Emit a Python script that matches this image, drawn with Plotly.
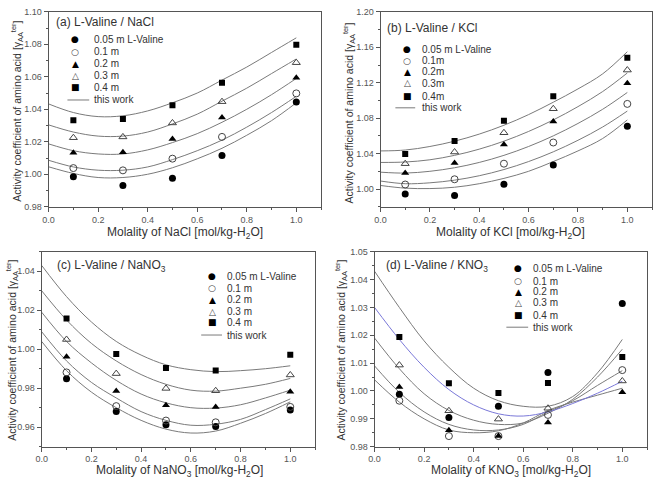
import plotly.graph_objects as go

W, H = 653, 483

# ---------------- data ----------------
SALT_X = [0.1, 0.3, 0.5, 0.7, 1.0]
CURVE_X = [0.0, 0.1, 0.2, 0.3, 0.4, 0.5, 0.6, 0.7, 0.8, 0.9, 1.0]
LABELS_A = ["0.05 m L-Valine", "0.1 m", "0.2 m", "0.3 m", "0.4 m"]
LABELS_B = ["0.05 m L-Valine", "0.1m", "0.2m", "0.3m", "0.4m"]

# (a) L-Valine / NaCl  -- measured points
A_005 = [0.9985, 0.9931, 0.9975, 1.0115, 1.0445]
A_01 = [1.0038, 1.0024, 1.0096, 1.0230, 1.0498]
A_02 = [1.0133, 1.0135, 1.0217, 1.0349, 1.0595]
A_03 = [1.0225, 1.0230, 1.0316, 1.0447, 1.0687]
A_04 = [1.0332, 1.0340, 1.0425, 1.0564, 1.0798]
# (a) model curves
A_C005 = [1.0046, 1.0005, 0.9980, 0.9980, 1.0000, 1.0040, 1.0095, 1.0160, 1.0240, 1.0330, 1.0440]
A_C01 = [1.0086, 1.0045, 1.0025, 1.0025, 1.0045, 1.0090, 1.0145, 1.0210, 1.0290, 1.0380, 1.0480]
A_C02 = [1.0187, 1.0145, 1.0125, 1.0125, 1.0150, 1.0195, 1.0250, 1.0320, 1.0400, 1.0490, 1.0590]
A_C03 = [1.0304, 1.0260, 1.0235, 1.0235, 1.0260, 1.0310, 1.0370, 1.0450, 1.0530, 1.0620, 1.0710]
A_C04 = [1.0433, 1.0380, 1.0355, 1.0360, 1.0390, 1.0440, 1.0500, 1.0580, 1.0660, 1.0750, 1.0840]

# (b) L-Valine / KCl
B_005 = [0.9945, 0.9927, 1.0055, 1.0272, 1.0708]
B_01 = [1.0051, 1.0110, 1.0286, 1.0525, 1.0961]
B_02 = [1.0180, 1.0294, 1.0503, 1.0763, 1.1193]
B_03 = [1.0286, 1.0418, 1.0635, 1.0906, 1.1343]
B_04 = [1.0396, 1.0543, 1.0771, 1.1046, 1.1483]
B_C005 = [1.0040, 1.0010, 1.0005, 1.0020, 1.0060, 1.0120, 1.0200, 1.0310, 1.0430, 1.0570, 1.0780]
B_C01 = [1.0090, 1.0060, 1.0070, 1.0100, 1.0150, 1.0220, 1.0310, 1.0420, 1.0550, 1.0700, 1.0880]
B_C02 = [1.0190, 1.0180, 1.0200, 1.0240, 1.0300, 1.0380, 1.0480, 1.0600, 1.0740, 1.0900, 1.1090]
B_C03 = [1.0300, 1.0305, 1.0330, 1.0380, 1.0450, 1.0540, 1.0650, 1.0780, 1.0930, 1.1100, 1.1310]
B_C04 = [1.0430, 1.0440, 1.0480, 1.0540, 1.0620, 1.0720, 1.0840, 1.0980, 1.1130, 1.1300, 1.1550]

# (c) L-Valine / NaNO3
C_005 = [0.9848, 0.9681, 0.9612, 0.9603, 0.9688]
C_01 = [0.9881, 0.9708, 0.9634, 0.9625, 0.9704]
C_02 = [0.9962, 0.9785, 0.9713, 0.9703, 0.9782]
C_03 = [1.0050, 0.9875, 0.9799, 0.9787, 0.9868]
C_04 = [1.0157, 0.9976, 0.9903, 0.9891, 0.9971]
C_C005 = [1.0040, 0.9890, 0.9780, 0.9700, 0.9635, 0.9590, 0.9570, 0.9580, 0.9620, 0.9670, 0.9730]
C_C01 = [1.0090, 0.9940, 0.9830, 0.9750, 0.9680, 0.9635, 0.9610, 0.9615, 0.9640, 0.9690, 0.9745]
C_C02 = [1.0190, 1.0040, 0.9930, 0.9840, 0.9770, 0.9725, 0.9700, 0.9698, 0.9715, 0.9750, 0.9790]
C_C03 = [1.0300, 1.0150, 1.0030, 0.9940, 0.9870, 0.9820, 0.9790, 0.9785, 0.9800, 0.9820, 0.9850]
C_C04 = [1.0430, 1.0270, 1.0140, 1.0040, 0.9970, 0.9920, 0.9895, 0.9885, 0.9890, 0.9900, 0.9915]

# (d) L-Valine / KNO3
D_005 = [0.9988, 0.9905, 0.9945, 1.0066, 1.0314]
D_01 = [0.9965, 0.9838, 0.9838, 0.9914, 1.0075]
D_02 = [1.0014, 0.9859, 0.9838, 0.9887, 0.9995]
D_03 = [1.0093, 0.9929, 0.9899, 0.9938, 1.0036]
D_04 = [1.0194, 1.0028, 0.9993, 1.0029, 1.0122]
D_C005 = [1.0040, 0.9960, 0.9900, 0.9860, 0.9850, 0.9857, 0.9885, 0.9930, 0.9960, 0.9985, 1.0010]
D_C01 = [1.0090, 0.9995, 0.9925, 0.9880, 0.9860, 0.9860, 0.9880, 0.9925, 0.9965, 1.0020, 1.0073]
D_C02 = [1.0190, 1.0080, 0.9990, 0.9930, 0.9895, 0.9880, 0.9885, 0.9920, 0.9970, 1.0050, 1.0150]
D_C03 = [1.0300, 1.0185, 1.0085, 1.0005, 0.9950, 0.9918, 0.9910, 0.9925, 0.9955, 0.9992, 1.0035]
D_C04 = [1.0430, 1.0300, 1.0180, 1.0085, 1.0010, 0.9965, 0.9945, 0.9945, 0.9980, 1.0065, 1.0185]

# ---------------- styling ----------------
MARKERS = [
    dict(symbol="circle", color="black", size=7),
    dict(symbol="circle-open", color="#444", size=7, line=dict(width=1, color="#444")),
    dict(symbol="triangle-up", color="black", size=7),
    dict(symbol="triangle-up-open", color="#444", size=7, line=dict(width=1, color="#444")),
    dict(symbol="square", color="black", size=6),
]
GLYPHS = ["●", "○", "▲", "△", "■"]
LINE_COL = "#7a7a7a"
BLUE_COL = "#7a78d8"

def px_x(p):
    return p / W

def px_y(p):
    return 1 - p / H

panels = [
    dict(name="a", dom=(43, 318, 7, 206), yr=(0.98, 1.10), ytick0=0.98, ydt=0.02, ymin=0.01,
         pts=[A_005, A_01, A_02, A_03, A_04], cur=[A_C005, A_C01, A_C02, A_C03, A_C04],
         labels=LABELS_A, title="(a) L-Valine / NaCl", title_pos=(48, 17),
         xt="Molality of NaCl [mol/kg-H<sub>2</sub>O]", xt_pos=(181, 233), yt_pos=(11, 108),
         leg=dict(sym=70, txt=87, rows=[35, 47.5, 60, 72, 84, 97], line=(62, 84)), blue=None),
    dict(name="b", dom=(378, 652, 7, 206), yr=(0.98, 1.20), ytick0=1.0, ydt=0.04, ymin=0.02,
         pts=[B_005, B_01, B_02, B_03, B_04], cur=[B_C005, B_C01, B_C02, B_C03, B_C04],
         labels=LABELS_B, title="(b) L-Valine / KCl", title_pos=(383, 23),
         xt="Molality of KCl [mol/kg-H<sub>2</sub>O]", xt_pos=(509, 233), yt_pos=(346, 110),
         leg=dict(sym=405, txt=418, rows=[45, 57, 68, 80, 93, 105], line=(393, 413)), blue=None),
    dict(name="c", dom=(36, 312, 252, 451), yr=(0.95, 1.05), ytick0=0.96, ydt=0.02, ymin=0.01,
         pts=[C_005, C_01, C_02, C_03, C_04], cur=[C_C005, C_C01, C_C02, C_C03, C_C04],
         labels=LABELS_A, title="(c) L-Valine / NaNO<sub>3</sub>", title_pos=(49, 267),
         xt="Molality of NaNO<sub>3</sub> [mol/kg-H<sub>2</sub>O]", xt_pos=(175, 476), yt_pos=(6, 352),
         leg=dict(sym=208, txt=221, rows=[277, 289, 301, 313, 324, 337], line=(197, 218)), blue=None),
    dict(name="d", dom=(372, 647, 252, 451), yr=(0.98, 1.05), ytick0=0.98, ydt=0.01, ymin=0.005,
         pts=[D_005, D_01, D_02, D_03, D_04], cur=[D_C005, D_C01, D_C02, D_C03, D_C04],
         labels=LABELS_A, title="(d) L-Valine / KNO<sub>3</sub>", title_pos=(382, 267),
         xt="Molality of KNO<sub>3</sub> [mol/kg-H<sub>2</sub>O]", xt_pos=(510, 476), yt_pos=(338, 352),
         leg=dict(sym=517, txt=530, rows=[269, 282, 293, 304, 317, 329], line=(505, 527)), blue=3),
]

YTITLE = "Activity coefficient of amino acid [γ<sub>AA</sub><sup>ter</sup>]"

fig = go.Figure()
annotations = []
shapes = []
layout = {}

for i, p in enumerate(panels):
    k = "" if i == 0 else str(i + 1)
    xa, ya = "x" + k, "y" + k
    x0, x1, y0, y1 = p["dom"]
    layout["xaxis" + k] = dict(
        domain=[px_x(x0), px_x(x1)], range=[0, 1.1], anchor=ya,
        tick0=0, dtick=0.2, tickformat=".1f", ticks="outside", ticklen=4,
        tickcolor="#555", minor=dict(dtick=0.1, ticks="outside", ticklen=2, tickcolor="#555"),
        showline=True, linecolor="#555", linewidth=1, mirror=True,
        showgrid=False, zeroline=False, tickfont=dict(size=9, color="#555"),
    )
    layout["yaxis" + k] = dict(
        domain=[px_y(y1), px_y(y0)], range=list(p["yr"]), anchor=xa,
        tick0=p["ytick0"], dtick=p["ydt"], tickformat=".2f",
        ticks="outside", ticklen=4, tickcolor="#555",
        minor=dict(dtick=p["ymin"], ticks="outside", ticklen=2, tickcolor="#555"),
        showline=True, linecolor="#555", linewidth=1, mirror=True,
        showgrid=False, zeroline=False, tickfont=dict(size=9, color="#555"),
    )
    # model curves
    for j, cy in enumerate(p["cur"]):
        col = BLUE_COL if p["blue"] == j else LINE_COL
        fig.add_trace(go.Scatter(x=CURVE_X, y=cy, mode="lines", xaxis=xa, yaxis=ya,
                                 line=dict(color=col, width=1, shape="spline", smoothing=1.0),
                                 showlegend=False, hoverinfo="skip"))
    # measured points
    for j, py in enumerate(p["pts"]):
        fig.add_trace(go.Scatter(x=SALT_X, y=py, mode="markers", xaxis=xa, yaxis=ya,
                                 marker=MARKERS[j], name=p["labels"][j], showlegend=False))
    # panel label
    tx, ty = p["title_pos"]
    annotations.append(dict(text=p["title"], x=px_x(tx), y=px_y(ty), xref="paper", yref="paper",
                            xanchor="left", yanchor="middle", showarrow=False,
                            font=dict(size=12, color="#333")))
    # axis titles
    ax_, ay_ = p["xt_pos"]
    annotations.append(dict(text=p["xt"], x=px_x(ax_), y=px_y(ay_), xref="paper", yref="paper",
                            xanchor="center", yanchor="middle", showarrow=False,
                            font=dict(size=12, color="#333")))
    bx, by = p["yt_pos"]
    annotations.append(dict(text=YTITLE, x=px_x(bx), y=px_y(by), xref="paper", yref="paper",
                            xanchor="center", yanchor="middle", showarrow=False, textangle=-90,
                            font=dict(size=10.5, color="#333")))
    # legend (drawn as text keys)
    lg = p["leg"]
    for j in range(5):
        annotations.append(dict(text=GLYPHS[j], x=px_x(lg["sym"]), y=px_y(lg["rows"][j]),
                                xref="paper", yref="paper", xanchor="center", yanchor="middle",
                                showarrow=False, font=dict(size=9, color="black" if j in (0, 2, 4) else "#444",
                                                           family="DejaVu Sans")))
        annotations.append(dict(text=p["labels"][j], x=px_x(lg["txt"]), y=px_y(lg["rows"][j]),
                                xref="paper", yref="paper", xanchor="left", yanchor="middle",
                                showarrow=False, font=dict(size=10, color="#333")))
    annotations.append(dict(text="this work", x=px_x(lg["txt"]), y=px_y(lg["rows"][5]),
                            xref="paper", yref="paper", xanchor="left", yanchor="middle",
                            showarrow=False, font=dict(size=10, color="#333")))
    shapes.append(dict(type="line", xref="paper", yref="paper",
                       x0=px_x(lg["line"][0]), x1=px_x(lg["line"][1]),
                       y0=px_y(lg["rows"][5]), y1=px_y(lg["rows"][5]),
                       line=dict(color=LINE_COL, width=1)))

fig.update_layout(
    width=W, height=H, margin=dict(l=0, r=0, t=0, b=0),
    paper_bgcolor="white", plot_bgcolor="white",
    font=dict(family="Liberation Sans, Arial, sans-serif", color="#333"),
    showlegend=False, annotations=annotations, shapes=shapes, **layout,
)

fig.write_html("out.html")
